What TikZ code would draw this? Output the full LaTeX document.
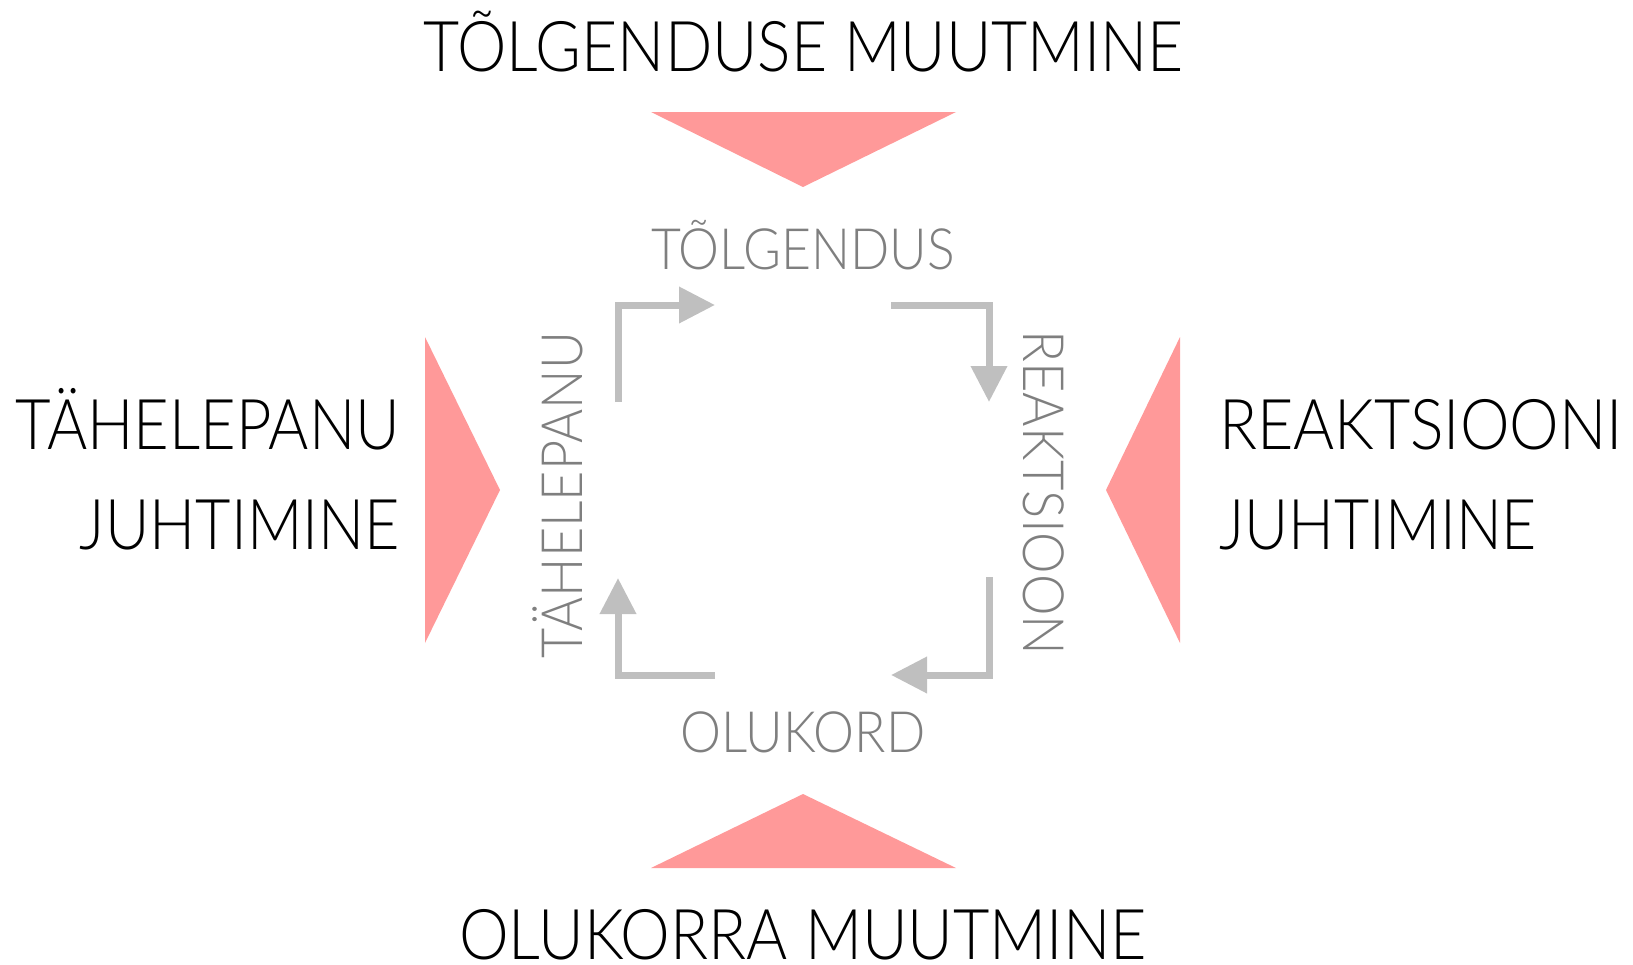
\documentclass[tikz,border=0pt]{standalone}
\usepackage{fontspec}
\usepackage{graphicx}
\IfFontExistsTF{Lato Light}{\setmainfont{Lato Light}}{%
  \IfFontExistsTF{Open Sans Light}{\setmainfont{Open Sans Light}}{\setmainfont{Open Sans}}}
\usetikzlibrary{arrows.meta}
\definecolor{tri}{HTML}{FF9999}
\definecolor{arrowgray}{HTML}{BFBFBF}
\definecolor{textgray}{HTML}{7F7F7F}
\newcommand{\fitw}[2]{\resizebox{#1}{\height}{#2}}
\tikzset{
  bigtext/.style={inner sep=0pt, outer sep=0pt, text=black, font=\fontsize{70}{80}\selectfont},
  graytext/.style={inner sep=0pt, outer sep=0pt, text=textgray, font=\fontsize{57}{64}\selectfont},
  marker/.style={fill=tri, draw=none},
  cyclearrow/.style={draw=arrowgray, line width=7pt, line join=miter, line cap=butt,
    -{Triangle[length=36pt,width=35pt]}}
}
\begin{document}
\begin{tikzpicture}[x=1pt,y=-1pt]
\useasboundingbox (0,0) rectangle (1633,964);
% pink triangles
\fill[marker] (651,112) -- (956,112) -- (803,187) -- cycle;
\fill[marker] (651,868) -- (956,868) -- (803,794) -- cycle;
\fill[marker] (425,337) -- (425,643) -- (500,490) -- cycle;
\fill[marker] (1180,337) -- (1180,643) -- (1106,490) -- cycle;
% outer labels
\node[bigtext, anchor=base] (tm) at (804,71) {\fitw{760pt}{TÕLGENDUSE MUUTMINE}};
\node[bigtext, anchor=base] (om) at (803,959) {\fitw{688pt}{OLUKORRA MUUTMINE}};
\node[bigtext, anchor=base east] (tj1) at (400,449) {\fitw{384pt}{TÄHELEPANU}};
\node[bigtext, anchor=base east] (tj2) at (400,549) {\fitw{320pt}{JUHTIMINE}};
\node[bigtext, anchor=base west] (rj1) at (1219,449) {\fitw{404pt}{REAKTSIOONI}};
\node[bigtext, anchor=base west] (rj2) at (1219,549) {\fitw{318pt}{JUHTIMINE}};
% inner labels
\node[graytext, anchor=base] (tolg) at (803,269) {\fitw{304pt}{TÕLGENDUS}};
\node[graytext, anchor=base] (oluk) at (803,752) {\fitw{245pt}{OLUKORD}};
\node[graytext, anchor=base, rotate=90] (tahe) at (582,495) {\fitw{326pt}{TÄHELEPANU}};
\node[graytext, anchor=base, rotate=-90] (reak) at (1023,493) {\fitw{325pt}{REAKTSIOON}};
% arrow end points
\coordinate (a1s) at (618,402); \coordinate (a1c) at (618,305); \coordinate (a1e) at (715,305);
\coordinate (a2s) at (891,305); \coordinate (a2c) at (989,305); \coordinate (a2e) at (989,402);
\coordinate (a3s) at (989,577); \coordinate (a3c) at (989,675); \coordinate (a3e) at (891,675);
\coordinate (a4s) at (715,675); \coordinate (a4c) at (618,675); \coordinate (a4e) at (618,578);
\draw[cyclearrow] (a1s) -- (a1c) -- (a1e);
\draw[cyclearrow] (a2s) -- (a2c) -- (a2e);
\draw[cyclearrow] (a3s) -- (a3c) -- (a3e);
\draw[cyclearrow] (a4s) -- (a4c) -- (a4e);
\end{tikzpicture}
\end{document}
